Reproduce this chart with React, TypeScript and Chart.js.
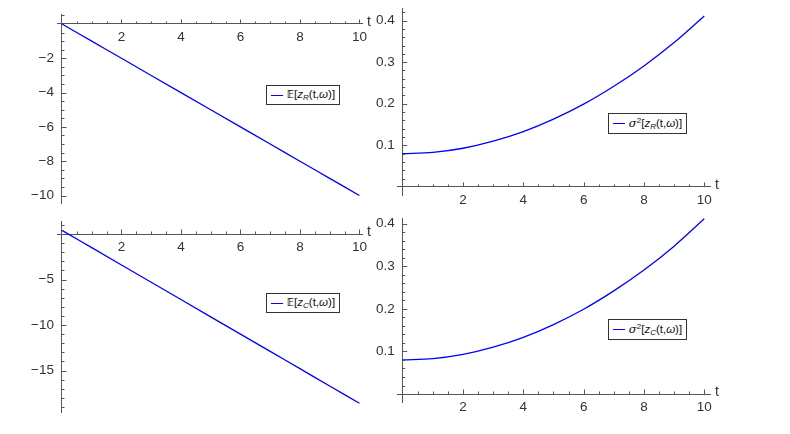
import React, { useEffect, useRef } from 'react';
import { Chart, registerables } from 'chart.js';

Chart.register(...registerables);

// ---- data ----
const T_VALUES = [0, 1, 2, 3, 4, 5, 6, 7, 8, 9, 10];
const MEAN_ZR = [0, -1, -2, -3, -4, -5, -6, -7, -8, -9, -10];
const MEAN_ZC = [0.4, -1.5, -3.4, -5.3, -7.2, -9.1, -11.0, -12.9, -14.8, -16.7, -18.6];
const VAR_ZR = [0.08, 0.083, 0.093, 0.11, 0.133, 0.163, 0.199, 0.242, 0.291, 0.347, 0.411];
const VAR_ZC = [0.08, 0.083, 0.093, 0.11, 0.133, 0.163, 0.199, 0.242, 0.291, 0.347, 0.411];

const X_TICKS = [2, 4, 6, 8, 10];
const Y_TICKS_MEAN_ZR = [-10, -8, -6, -4, -2];
const Y_TICKS_MEAN_ZC = [-15, -10, -5];
const Y_TICKS_VAR = [0.1, 0.2, 0.3, 0.4];

const AXIS_COLOR = '#555555';
const LABEL_COLOR = '#333333';
const LINE_COLOR = '#0000ff';
const FONT = '"Liberation Sans", Arial, sans-serif';
const Y_LABEL_GAP = 8;

const fmt = (v: number) => (v < 0 ? '\u2212' + String(Math.abs(v)) : String(v));

const axisDecor = {
  id: 'axisDecor',
  beforeDraw(chart: any) {
    // move the y tick labels away from the axis line (object-positioned axes ignore padding)
    const ys = chart.scales.y;
    if (ys && typeof ys._computeLabelItems === 'function') {
      const items = ys._computeLabelItems(chart.chartArea);
      items.forEach((it: any) => {
        if (it.options && it.options.translation) {
          it.options.translation = [it.options.translation[0] - Y_LABEL_GAP, it.options.translation[1]];
        }
      });
      ys._labelItems = items;
    }
  },
  afterDraw(chart: any, _args: any, opts: any) {
    const { ctx } = chart;
    const xs = chart.scales.x;
    const ys = chart.scales.y;
    const y0 = ys.getPixelForValue(0);
    const x0 = xs.getPixelForValue(0);
    ctx.save();
    ctx.strokeStyle = AXIS_COLOR;
    ctx.lineWidth = 1;
    const near = (a: number, b: number) => Math.abs(a - b) < 1e-6;
    const xMajor: number[] = opts.xMajor;
    for (let i = Math.ceil(xs.min / opts.xMinor); i * opts.xMinor <= xs.max + 1e-9; i++) {
      const v = i * opts.xMinor;
      if (near(v, 0)) continue;
      const len = xMajor.some((m) => near(m, v)) ? 4.5 : 2.5;
      const px = Math.round(xs.getPixelForValue(v)) + 0.5;
      ctx.beginPath();
      ctx.moveTo(px, y0);
      ctx.lineTo(px, y0 - len);
      ctx.stroke();
    }
    const yMajor: number[] = opts.yMajor;
    for (let i = Math.ceil(ys.min / opts.yMinor - 1e-9); i * opts.yMinor <= ys.max + 1e-9; i++) {
      const v = i * opts.yMinor;
      if (near(v, 0)) continue;
      const len = yMajor.some((m) => near(m, v)) ? 4.5 : 2.5;
      const py = Math.round(ys.getPixelForValue(v)) + 0.5;
      ctx.beginPath();
      ctx.moveTo(x0, py);
      ctx.lineTo(x0 + len, py);
      ctx.stroke();
    }
    ctx.fillStyle = LABEL_COLOR;
    ctx.font = '14px ' + FONT;
    ctx.textAlign = 'left';
    ctx.textBaseline = 'middle';
    ctx.fillText('t', xs.right + 5, y0 - 2);
    ctx.restore();
  },
};

type PanelProps = {
  left: number;
  top: number;
  width: number;
  height: number;
  pad: { left: number; top: number; right: number; bottom: number };
  xMin: number;
  xMax: number;
  yMin: number;
  yMax: number;
  yTicks: number[];
  yMinor: number;
  values: number[];
};

function Panel(p: PanelProps) {
  const ref = useRef<HTMLCanvasElement | null>(null);
  useEffect(() => {
    if (!ref.current) return;
    const chart = new Chart(ref.current, {
      type: 'scatter',
      data: {
        datasets: [
          {
            data: T_VALUES.map((t, i) => ({ x: t, y: p.values[i] })),
            showLine: true,
            borderColor: LINE_COLOR,
            borderWidth: 1.3,
            pointRadius: 0,
            cubicInterpolationMode: 'monotone',
            clip: false,
            fill: false,
          } as any,
        ],
      },
      options: {
        responsive: false,
        animation: false,
        layout: { padding: p.pad },
        plugins: {
          legend: { display: false },
          tooltip: { enabled: false },
          axisDecor: { xMajor: X_TICKS, xMinor: 0.5, yMajor: p.yTicks, yMinor: p.yMinor },
        } as any,
        scales: {
          x: {
            type: 'linear',
            min: p.xMin,
            max: p.xMax,
            position: { y: 0 } as any,
            afterBuildTicks: (s: any) => {
              s.ticks = X_TICKS.map((v) => ({ value: v }));
            },
            grid: { display: true, drawOnChartArea: false, drawTicks: false },
            border: { display: true, color: AXIS_COLOR, width: 1 },
            ticks: {
              padding: 5,
              color: LABEL_COLOR,
              font: { family: FONT, size: 13.5 },
              maxRotation: 0,
              autoSkip: false,
              callback: (v: any) => fmt(Number(v)),
            },
          },
          y: {
            type: 'linear',
            min: p.yMin,
            max: p.yMax,
            position: { x: 0 } as any,
            afterBuildTicks: (s: any) => {
              s.ticks = p.yTicks.map((v) => ({ value: v }));
            },
            grid: { display: true, drawOnChartArea: false, drawTicks: false },
            border: { display: true, color: AXIS_COLOR, width: 1 },
            ticks: {
              padding: 0,
              color: LABEL_COLOR,
              font: { family: FONT, size: 13.5 },
              autoSkip: false,
              callback: (v: any) => fmt(Number(v)),
            },
          },
        },
      },
      plugins: [axisDecor],
    });
    return () => chart.destroy();
  }, []);
  return (
    <canvas
      ref={ref}
      width={p.width}
      height={p.height}
      style={{ position: 'absolute', left: p.left, top: p.top, width: p.width, height: p.height }}
    />
  );
}

function Legend({ left, top, width, height, kind, sub }: any) {
  return (
    <div
      style={{
        position: 'absolute',
        left,
        top,
        width,
        height,
        boxSizing: 'border-box',
        border: '1px solid #333',
        background: '#fff',
        display: 'flex',
        alignItems: 'center',
        justifyContent: 'center',
        fontFamily: FONT,
        fontSize: 11.5,
        color: '#111',
        whiteSpace: 'nowrap',
      }}
    >
      <span style={{ display: 'inline-block', width: 12, height: 0, borderTop: '1.5px solid ' + LINE_COLOR, marginRight: 4 }} />
      <span>
        {kind === 'mean' ? (
          <span style={{ fontFamily: '"DejaVu Sans", ' + FONT, fontWeight: 'bold', fontSize: 10.5 }}>𝔼</span>
        ) : (
          <span>
            <i style={{ fontFamily: '"DejaVu Serif", serif' }}>σ</i>
            <sup style={{ fontSize: 8, verticalAlign: 4 }}>2</sup>
          </span>
        )}
        [<i>z</i>
        <sub style={{ fontSize: 8, verticalAlign: -2 }}>
          <i>{sub}</i>
        </sub>
        (t,<i>ω</i>)]
      </span>
    </div>
  );
}

export default function App() {
  return (
    <div style={{ position: 'absolute', left: 0, top: 0, width: 790, height: 434, background: '#fff', overflow: 'hidden' }}>
      <Panel
        left={0}
        top={0}
        width={395}
        height={217}
        pad={{ left: 57, top: 14, right: 33, bottom: 14 }}
        xMin={-0.168}
        xMax={10.087}
        yMin={-10.437}
        yMax={0.583}
        yTicks={Y_TICKS_MEAN_ZR}
        yMinor={0.5}
        values={MEAN_ZR}
      />
      <Panel
        left={370}
        top={0}
        width={360}
        height={217}
        pad={{ left: 27, top: 3, right: 20, bottom: 22 }}
        xMin={-0.189}
        xMax={10.19}
        yMin={-0.0194}
        yMax={0.43}
        yTicks={Y_TICKS_VAR}
        yMinor={0.02}
        values={VAR_ZR}
      />
      <Panel
        left={0}
        top={205}
        width={395}
        height={229}
        pad={{ left: 57, top: 16, right: 33, bottom: 22 }}
        xMin={-0.168}
        xMax={10.087}
        yMin={-19.56}
        yMax={1.43}
        yTicks={Y_TICKS_MEAN_ZC}
        yMinor={1}
        values={MEAN_ZC}
      />
      <Panel
        left={370}
        top={205}
        width={360}
        height={229}
        pad={{ left: 27, top: 13, right: 20, bottom: 32 }}
        xMin={-0.189}
        xMax={10.19}
        yMin={-0.0187}
        yMax={0.413}
        yTicks={Y_TICKS_VAR}
        yMinor={0.02}
        values={VAR_ZC}
      />
      <Legend left={266} top={85} width={74} height={20} kind="mean" sub="R" />
      <Legend left={608} top={113} width={79} height={21} kind="var" sub="R" />
      <Legend left={266} top={293} width={74} height={20} kind="mean" sub="C" />
      <Legend left={608} top={319} width={79} height={21} kind="var" sub="C" />
    </div>
  );
}
